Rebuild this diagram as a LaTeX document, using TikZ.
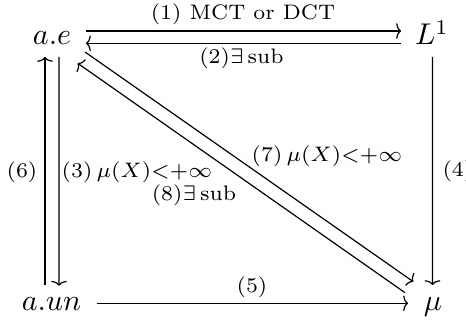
\documentclass[tikz,border=0pt]{standalone}
\usetikzlibrary{arrows.meta}
\begin{document}
\begin{tikzpicture}[x=0.33333pt,y=-0.33333pt,
  obj/.style={inner sep=0pt,anchor=base,font=\normalsize},
  lab/.style={inner sep=0pt,font=\normalsize},
  arr/.style={line width=0.4pt,-{To[length=1.6pt,width=5.2pt]}}]
\clip (0,0) rectangle (466,323);
\useasboundingbox (0,0) rectangle (466,323);
\node[obj] (ae) at (52,45) {$a.e$};
\node[obj] (L1) at (432,45) {$L^1$};
\node[obj] (aun) at (51.5,311) {$a.un$};
\node[obj] (mu) at (433,311) {$\mu$};
% arrows
\draw[arr] ([shift={(34,-14)}]ae.base) -- ([shift={(-31,-14)}]L1.base);
\draw[arr] ([shift={(-31,-1.7)}]L1.base) -- ([shift={(34,-1.7)}]ae.base);
\draw[arr] ([shift={(-6.5,-26)}]aun.base) -- ([shift={(-7,12)}]ae.base);
\draw[arr] ([shift={(7,12)}]ae.base) -- ([shift={(7.5,-25.3)}]aun.base);
\draw[arr] ([shift={(0.5,12)}]L1.base) -- ([shift={(-0.5,-26)}]mu.base);
\draw[arr] ([shift={(45.2,-7.7)}]aun.base) -- ([shift={(-25,-7.7)}]mu.base);
\draw[arr] ([shift={(33,7)}]ae.base) -- ([shift={(-19.7,-29.3)}]mu.base);
\draw[arr] ([shift={(-28,-18.3)}]mu.base) -- ([shift={(25.7,18.3)}]ae.base);
% labels
\node[lab,font=\scriptsize] (l1) at (243,14) {(1) MCT or DCT};
\node[lab] (l2) at (241.5,58) {$\scriptstyle(2)\exists\,\mathrm{sub}$};
\node[lab] (l6) at (22,172) {$\scriptstyle(6)$};
\node[lab] (l3) at (137,172) {$\scriptstyle(3)\,\mu(X)<+\infty$};
\node[lab] (l8) at (194,195) {$\scriptstyle(8)\exists\,\mathrm{sub}$};
\node[lab] (l7) at (327,156) {$\scriptstyle(7)\,\mu(X)<+\infty$};
\node[lab,anchor=west] (l4) at (442,171) {$\scriptstyle(4)$};
\node[lab] (l5) at (252,287) {$\scriptstyle(5)$};
\end{tikzpicture}
\end{document}
